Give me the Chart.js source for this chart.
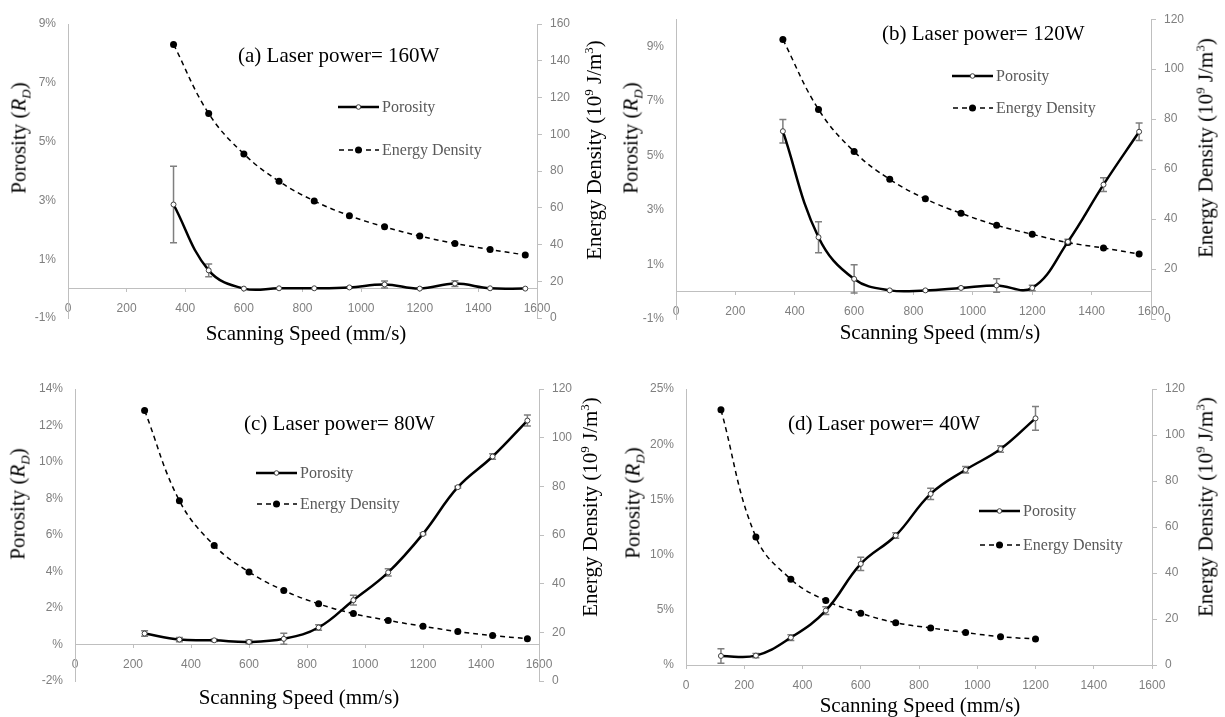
<!DOCTYPE html>
<html>
<head>
<meta charset="utf-8">
<title>Porosity and energy density vs scanning speed</title>
<script src="https://cdn.jsdelivr.net/npm/chart.js"></script>
<style>
  body { margin: 0; background: #fff; }
  #page { position: relative; width: 1225px; height: 717px; overflow: hidden;
          font-family: 'Liberation Serif', 'Times New Roman', serif; }
  .panel { position: absolute; }
  .panel canvas { position: absolute; left: 0; top: 0; }
  .txt { position: absolute; white-space: nowrap; color: #000; font-size: 21px; line-height: 1; }
  .rot { transform: translate(-50%, -50%) rotate(-90deg); }
  .ctr { transform: translate(-50%, -50%); }
  .mid { transform: translateY(-50%); }
  .leg { position: absolute; white-space: nowrap; font-size: 16px; color: #595959; line-height: 1;
         transform: translateY(-50%); display: flex; align-items: center; }
  .leg svg { margin-right: 3px; }
  sup, sub { font-size: 0.62em; line-height: 0; }
</style>
</head>
<body>
<div id="page">

  <div class="panel" style="left:0;top:0;width:612px;height:360px">
    <canvas id="chartA" width="612" height="360"></canvas>
    <div class="txt mid" style="left:238px;top:55px">(a) Laser power= 160W</div>
    <div class="leg" data-kind="solid" style="left:338px;top:107px">Porosity</div>
    <div class="leg" data-kind="dash" style="left:338px;top:150px">Energy Density</div>
    <div class="txt rot" style="left:19px;top:138px">Porosity (<i>R</i><sub><i>D</i></sub>)</div>
    <div class="txt rot" style="left:594px;top:150px">Energy Density (10<sup>9</sup> J/m<sup>3</sup>)</div>
    <div class="txt ctr" style="left:306px;top:333px">Scanning Speed (mm/s)</div>
  </div>

  <div class="panel" style="left:612px;top:0;width:613px;height:360px">
    <canvas id="chartB" width="613" height="360"></canvas>
    <div class="txt mid" style="left:270px;top:33px">(b) Laser power= 120W</div>
    <div class="leg" data-kind="solid" style="left:340px;top:76px">Porosity</div>
    <div class="leg" data-kind="dash" style="left:340px;top:108px">Energy Density</div>
    <div class="txt rot" style="left:19px;top:138px">Porosity (<i>R</i><sub><i>D</i></sub>)</div>
    <div class="txt rot" style="left:594px;top:148px">Energy Density (10<sup>9</sup> J/m<sup>3</sup>)</div>
    <div class="txt ctr" style="left:328px;top:332px">Scanning Speed (mm/s)</div>
  </div>

  <div class="panel" style="left:0;top:360px;width:612px;height:357px">
    <canvas id="chartC" width="612" height="357"></canvas>
    <div class="txt mid" style="left:244px;top:63px">(c) Laser power= 80W</div>
    <div class="leg" data-kind="solid" style="left:256px;top:113px">Porosity</div>
    <div class="leg" data-kind="dash" style="left:256px;top:144px">Energy Density</div>
    <div class="txt rot" style="left:18px;top:144px">Porosity (<i>R</i><sub><i>D</i></sub>)</div>
    <div class="txt rot" style="left:590px;top:147px">Energy Density (10<sup>9</sup> J/m<sup>3</sup>)</div>
    <div class="txt ctr" style="left:299px;top:337px">Scanning Speed (mm/s)</div>
  </div>

  <div class="panel" style="left:612px;top:360px;width:613px;height:357px">
    <canvas id="chartD" width="613" height="357"></canvas>
    <div class="txt mid" style="left:176px;top:63px">(d) Laser power= 40W</div>
    <div class="leg" data-kind="solid" style="left:367px;top:151px">Porosity</div>
    <div class="leg" data-kind="dash" style="left:367px;top:185px">Energy Density</div>
    <div class="txt rot" style="left:21px;top:143px">Porosity (<i>R</i><sub><i>D</i></sub>)</div>
    <div class="txt rot" style="left:594px;top:147px">Energy Density (10<sup>9</sup> J/m<sup>3</sup>)</div>
    <div class="txt ctr" style="left:308px;top:345px">Scanning Speed (mm/s)</div>
  </div>

</div>
<script>
// x axis ticks shared by all four panels
const speedTicks = [0, 200, 400, 600, 800, 1000, 1200, 1400, 1600];

// (a) laser power 160 W
const speedA = [360, 480, 600, 720, 840, 960, 1080, 1200, 1320, 1440, 1560];
const porosityA = [2.86, 0.62, 0.0, 0.01, 0.01, 0.04, 0.14, 0.0, 0.17, 0.01, 0.0];
const porosityErrA = [1.3, 0.22, 0, 0, 0, 0.02, 0.12, 0, 0.1, 0, 0];
const energyA = [148.9, 111.3, 89.3, 74.4, 63.7, 55.7, 49.6, 44.6, 40.6, 37.3, 34.3];
const porosityTicksA = [-1, 1, 3, 5, 7, 9];
const energyTicksA = [0, 20, 40, 60, 80, 100, 120, 140, 160];

// (b) laser power 120 W
const speedB = [360, 480, 600, 720, 840, 960, 1080, 1200, 1320, 1440, 1560];
const porosityB = [5.89, 2.0, 0.47, 0.05, 0.05, 0.14, 0.23, 0.14, 1.83, 3.93, 5.87];
const porosityErrB = [0.43, 0.57, 0.52, 0, 0, 0.03, 0.25, 0.1, 0.1, 0.25, 0.32];
const energyB = [111.9, 83.9, 67.0, 55.9, 48.1, 42.3, 37.5, 33.9, 30.6, 28.4, 26.0];
const porosityTicksB = [-1, 1, 3, 5, 7, 9];
const energyTicksB = [0, 20, 40, 60, 80, 100, 120];

// (c) laser power 80 W
const speedC = [240, 360, 480, 600, 720, 840, 960, 1080, 1200, 1320, 1440, 1560];
const porosityC = [0.6, 0.27, 0.23, 0.14, 0.31, 0.93, 2.43, 3.95, 6.06, 8.62, 10.3, 12.27];
const porosityErrC = [0.15, 0.12, 0.07, 0.1, 0.3, 0.15, 0.27, 0.2, 0.05, 0.05, 0.15, 0.3];
const energyC = [111.2, 74.1, 55.7, 44.8, 37.2, 31.7, 27.7, 24.9, 22.5, 20.3, 18.7, 17.4];
const porosityTicksC = [-2, 0, 2, 4, 6, 8, 10, 12, 14];
const energyTicksC = [0, 20, 40, 60, 80, 100, 120];

// (d) laser power 40 W
const speedD = [120, 240, 360, 480, 600, 720, 840, 960, 1080, 1200];
const porosityD = [0.82, 0.85, 2.48, 4.93, 9.16, 11.73, 15.5, 17.68, 19.56, 22.34];
const porosityErrD = [0.66, 0.2, 0.25, 0.35, 0.6, 0.25, 0.5, 0.3, 0.3, 1.07];
const energyD = [111.0, 55.6, 37.3, 28.0, 22.5, 18.4, 16.1, 14.1, 12.3, 11.3];
const porosityTicksD = [0, 5, 10, 15, 20, 25];
const energyTicksD = [0, 20, 40, 60, 80, 100, 120];

// legend samples
const samples = {
  solid: '<svg width="41" height="10"><line x1="0" y1="5" x2="41" y2="5" stroke="#000" stroke-width="2.5"/>' +
         '<circle cx="20.5" cy="5" r="2.3" fill="#fff" stroke="#404040" stroke-width="1"/></svg>',
  dash: '<svg width="41" height="10"><line x1="1" y1="5" x2="41" y2="5" stroke="#000" stroke-width="1.5" stroke-dasharray="5 4"/>' +
        '<circle cx="20.5" cy="5" r="3.5" fill="#000"/></svg>'
};
document.querySelectorAll('.leg').forEach(el => {
  el.insertAdjacentHTML('afterbegin', samples[el.dataset.kind]);
});

// error bars for the porosity series
const errorBars = {
  id: 'errorBars',
  beforeDatasetsDraw(chart) {
    const ds = chart.data.datasets[0];
    const xs = chart.scales.x, ys = chart.scales.yL;
    const ctx = chart.ctx;
    ctx.save();
    ctx.strokeStyle = '#7f7f7f';
    ctx.lineWidth = 1.5;
    ds.data.forEach((p, i) => {
      const e = ds.errors[i];
      if (!e) return;
      const x = xs.getPixelForValue(p.x);
      const y1 = ys.getPixelForValue(p.y + e);
      const y2 = ys.getPixelForValue(p.y - e);
      ctx.beginPath();
      ctx.moveTo(x, y1); ctx.lineTo(x, y2);
      ctx.moveTo(x - 3.5, y1); ctx.lineTo(x + 3.5, y1);
      ctx.moveTo(x - 3.5, y2); ctx.lineTo(x + 3.5, y2);
      ctx.stroke();
    });
    ctx.restore();
  }
};

const grey = '#bfbfbf';
const tickColor = '#7f7f7f';
const tickFont = { family: "'Liberation Sans', Arial, sans-serif", size: 12 };

function makeChart(id, box, speeds, por, err, energy, pTicks, pMax, eTicks) {
  return new Chart(document.getElementById(id), {
    type: 'line',
    data: {
      datasets: [{
        label: 'Porosity',
        data: speeds.map((s, i) => ({ x: s, y: por[i] })),
        errors: err,
        yAxisID: 'yL',
        borderColor: '#000',
        borderWidth: 2.5,
        tension: 0.4,
        pointRadius: 2.5,
        pointBackgroundColor: '#fff',
        pointBorderColor: '#404040',
        pointBorderWidth: 1
      }, {
        label: 'Energy Density',
        data: speeds.map((s, i) => ({ x: s, y: energy[i] })),
        yAxisID: 'yR',
        borderColor: '#000',
        borderWidth: 1.5,
        borderDash: [5, 4],
        tension: 0.4,
        pointRadius: 3.5,
        pointBackgroundColor: '#000',
        pointBorderColor: '#000',
        pointBorderWidth: 0
      }]
    },
    options: {
      responsive: false,
      animation: false,
      devicePixelRatio: 1,
      layout: { padding: { left: 0, right: 0, top: box.top, bottom: box.h - box.bottom } },
      plugins: { legend: { display: false }, tooltip: { enabled: false } },
      scales: {
        x: {
          type: 'linear', min: 0, max: 1600,
          position: { yL: 0 },
          afterBuildTicks: s => { s.ticks = speedTicks.map(v => ({ value: v })); },
          ticks: { color: tickColor, font: tickFont, padding: 10, autoSkip: false, maxRotation: 0,
                   callback: v => String(v) },
          grid: { drawOnChartArea: false, drawTicks: true, tickLength: 3, color: grey },
          border: { color: grey }
        },
        yL: {
          type: 'linear', position: 'left',
          min: pTicks[0], max: pMax,
          afterBuildTicks: s => { s.ticks = pTicks.map(v => ({ value: v })); },
          afterFit: s => { s.width = box.left; },
          ticks: { color: tickColor, font: tickFont, padding: 12,
                   callback: v => (v === 0 ? '%' : v + '%') },
          grid: { drawOnChartArea: false, drawTicks: false, color: grey },
          border: { color: grey }
        },
        yR: {
          type: 'linear', position: 'right',
          min: 0, max: eTicks[eTicks.length - 1],
          afterBuildTicks: s => { s.ticks = eTicks.map(v => ({ value: v })); },
          afterFit: s => { s.width = box.w - box.right; },
          ticks: { color: tickColor, font: tickFont, padding: 8, callback: v => String(v) },
          grid: { drawOnChartArea: false, tickLength: 5, color: grey },
          border: { color: grey }
        }
      }
    },
    plugins: [errorBars]
  });
}

makeChart('chartA', { w: 612, h: 360, left: 68, right: 537, top: 24, bottom: 318 },
  speedA, porosityA, porosityErrA, energyA, porosityTicksA, 9, energyTicksA);
makeChart('chartB', { w: 613, h: 360, left: 64, right: 539, top: 15, bottom: 319 },
  speedB, porosityB, porosityErrB, energyB, porosityTicksB, 10, energyTicksB);
makeChart('chartC', { w: 612, h: 357, left: 75, right: 539, top: 29, bottom: 321 },
  speedC, porosityC, porosityErrC, energyC, porosityTicksC, 14, energyTicksC);
makeChart('chartD', { w: 613, h: 357, left: 74, right: 540, top: 29, bottom: 305 },
  speedD, porosityD, porosityErrD, energyD, porosityTicksD, 25, energyTicksD);
</script>
</body>
</html>
